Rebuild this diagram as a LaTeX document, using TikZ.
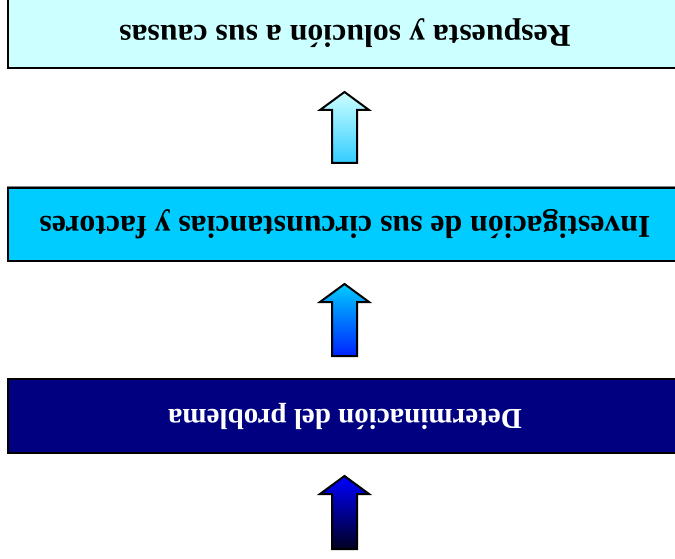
\documentclass[tikz,border=0pt]{standalone}
\usepackage{fontspec}
\setmainfont{Liberation Serif}
\definecolor{paleCyan}{HTML}{CCFFFF}
\definecolor{midCyan}{HTML}{00CCFF}
\definecolor{arrCyan}{HTML}{33CCFF}
\definecolor{navyBox}{HTML}{000080}
\definecolor{arrBlue}{HTML}{0022FF}
\definecolor{deepBlue}{HTML}{0000FF}
\definecolor{nearBlack}{HTML}{000022}
\definecolor{shadowGray}{HTML}{808080}
\begin{document}
\begin{tikzpicture}[x=1pt,y=-1pt,
  stagebox/.style={draw=black, line width=2pt, minimum width=674pt, inner sep=0pt,
    rotate=180, font=\fontsize{31.8}{36}\selectfont\bfseries},
  boxshadow/.style={fill=shadowGray},
  uparrow/.style={draw=black, line width=2pt, line join=miter}]
\useasboundingbox (0,0) rectangle (675,559);
\clip (0,0) rectangle (675,559);
% shadows (appear at the upper left, picture is turned)
\fill[boxshadow] (6.5,-3.5) rectangle (680,66.5);
\fill[boxshadow] (6.5,186.5) rectangle (680,259.5);
\fill[boxshadow] (6.5,377.5) rectangle (680,451.5);
% boxes
\node[stagebox, fill=paleCyan, minimum height=70pt, text=black] (resp) at (345,33)
  {Respuesta y solución a sus causas};
\node[stagebox, fill=midCyan, minimum height=73pt, text=black] (inv) at (345,224.5)
  {Investigación de sus circunstancias y factores};
\node[stagebox, fill=navyBox, minimum height=74pt, text=white,
  font=\fontsize{29}{34}\selectfont\bfseries] (det) at (345,416)
  {Determinación del problema};
% arrows
\path[uparrow, top color=paleCyan, bottom color=arrCyan]
  (344.5,92) -- (369,110) -- (357,110) -- (357,163) -- (332,163) -- (332,110) -- (320,110) -- cycle;
\path[uparrow, top color=midCyan, bottom color=arrBlue]
  (344.5,284) -- (369,302) -- (357,302) -- (357,356) -- (332,356) -- (332,302) -- (320,302) -- cycle;
\path[uparrow, top color=deepBlue, bottom color=nearBlack]
  (344.5,476) -- (369,494) -- (357,494) -- (357,549) -- (332,549) -- (332,494) -- (320,494) -- cycle;
\end{tikzpicture}
\end{document}
